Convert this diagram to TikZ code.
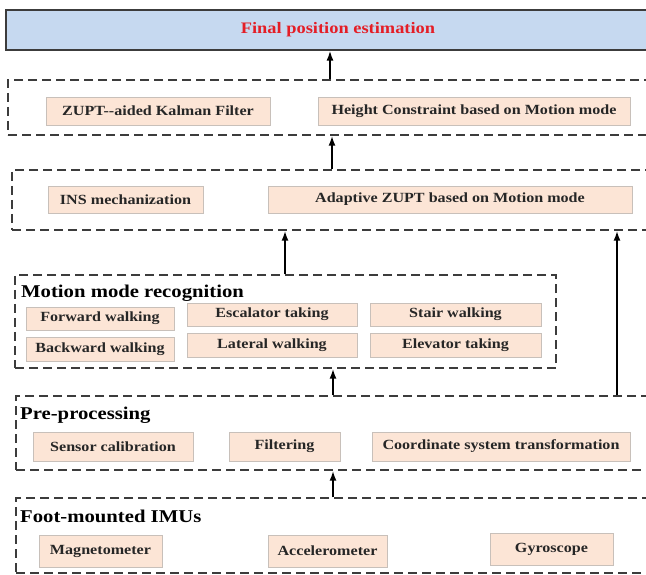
\documentclass[tikz,border=0pt]{standalone}
\usepackage{fontspec}
\usepackage{xcolor}
\usepackage{tikz}
\usetikzlibrary{arrows.meta,positioning}
\newfontfamily\figfont{Liberation Serif}[FakeStretch=1.15]
\definecolor{unitfill}{RGB}{252,229,214}
\definecolor{unitline}{RGB}{200,192,186}
\definecolor{finalfill}{RGB}{198,217,240}
\definecolor{finalred}{RGB}{228,30,38}
\definecolor{framegray}{RGB}{60,60,60}

\begin{document}
\begin{tikzpicture}[x=1pt, y=-1pt,
  unit/.style={draw=unitline, fill=unitfill, line width=0.8pt, inner sep=0pt,
    font=\figfont\bfseries\fontsize{14}{16}\selectfont, text=black!85},
  frame/.style={draw=framegray, line width=1.4pt, dash pattern=on 9pt off 5pt,
    inner sep=0pt},
  ttl/.style={anchor=base west, inner sep=0pt,
    font=\figfont\bfseries\fontsize{18}{20}\selectfont},
  arr/.style={-{Latex[length=10pt,width=7pt]}, line width=1.8pt},
]
  \useasboundingbox (0,0) rectangle (646,575);

  % top result
  \node[draw=framegray, fill=finalfill, line width=1.2pt, inner sep=0pt,
    minimum width=654pt, minimum height=40pt,
    font=\figfont\bfseries\fontsize{16}{18}\selectfont, text=finalred]
    (final) at (333,30) {\hspace*{10pt}Final position estimation};

  % filter layer
  \node[frame, minimum width=652pt, minimum height=55pt] (kal) at (334,107.5) {};
  \node[unit, minimum width=224pt, minimum height=28pt] (zupt) at (158,111)
    {ZUPT{-}{-}aided Kalman Filter};
  \node[unit, minimum width=312pt, minimum height=28pt] (hgt) at (474,111)
    {Height Constraint based on Motion mode};

  % INS layer
  \node[frame, minimum width=648pt, minimum height=60pt] (ins) at (336,200) {};
  \node[unit, minimum width=155pt, minimum height=27pt] (insm) at (125.5,199.5)
    {INS mechanization};
  \node[unit, minimum width=364pt, minimum height=27pt] (adapt) at (450,199.5)
    {Adaptive ZUPT based on Motion mode};

  % motion mode recognition
  \node[frame, minimum width=541pt, minimum height=93pt] (motion) at (285.5,321.5) {};
  \node[ttl] (motionttl) at (21,297) {Motion mode recognition};
  \node[unit, minimum width=148pt, minimum height=23pt] (fwd) at (100,318.5)
    {Forward walking};
  \node[unit, minimum width=148pt, minimum height=24pt] (bwd) at (100,349)
    {Backward walking};
  \node[unit, minimum width=170pt, minimum height=23pt] (esc) at (272,314.5)
    {Escalator taking};
  \node[unit, minimum width=170pt, minimum height=24pt] (lat) at (272,345)
    {Lateral walking};
  \node[unit, minimum width=171pt, minimum height=23pt] (stair) at (455.5,314.5)
    {Stair walking};
  \node[unit, minimum width=171pt, minimum height=24pt] (elev) at (455.5,345)
    {Elevator taking};

  % pre-processing
  \node[frame, minimum width=644pt, minimum height=74pt] (pre) at (338,433) {};
  \node[ttl] (prettl) at (20,419) {Pre-processing};
  \node[unit, minimum width=160pt, minimum height=29pt] (sens) at (113,446.5)
    {Sensor calibration};
  \node[unit, minimum width=111pt, minimum height=29pt] (filt) at (284.5,446.5)
    {Filtering};
  \node[unit, minimum width=258pt, minimum height=29pt] (coord) at (501,446.5)
    {Coordinate system transformation};

  % sensors
  \node[frame, minimum width=644pt, minimum height=75pt] (imu) at (338,535.5) {};
  \node[ttl] (imuttl) at (20,522) {Foot-mounted IMUs};
  \node[unit, minimum width=123pt, minimum height=32pt] (mag) at (100.5,551)
    {Magnetometer};
  \node[unit, minimum width=119pt, minimum height=32pt] (acc) at (327.5,551)
    {Accelerometer};
  \node[unit, minimum width=123pt, minimum height=32pt] (gyro) at (551.5,549)
    {Gyroscope};

  % arrow columns
  \coordinate (ca) at (330,0);
  \coordinate (cb) at (332,0);
  \coordinate (cm) at (285,0);
  \coordinate (cr) at (617,0);
  \coordinate (cp) at (333,0);

  \draw[arr] (kal.north -| ca) -- (final.south -| ca);
  \draw[arr] (ins.north -| cb) -- (kal.south -| cb);
  \draw[arr] (motion.north -| cm) -- (ins.south -| cm);
  \draw[arr] (pre.north -| cr) -- (ins.south -| cr);
  \draw[arr] (pre.north -| cp) -- (motion.south -| cp);
  \draw[arr] (imu.north -| cp) -- (pre.south -| cp);
\end{tikzpicture}
\end{document}
